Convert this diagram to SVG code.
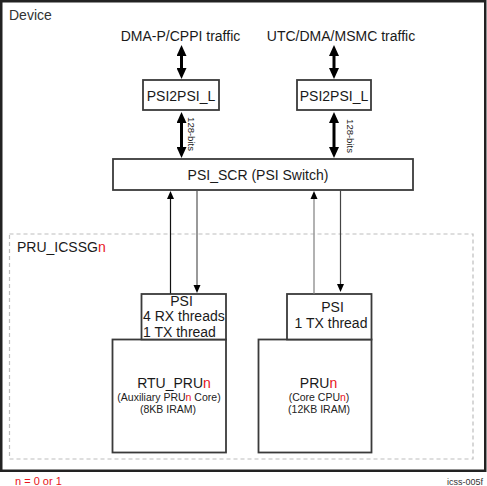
<svg xmlns="http://www.w3.org/2000/svg" width="487" height="486" viewBox="0 0 487 486">
<style>
text{font-family:"Liberation Sans",Arial,sans-serif;fill:#1a1a1a}
.t14{font-size:14px}
.sm{font-size:10.5px;fill:#222}
.c{text-anchor:middle}
.red{fill:#e8141b}
.box{fill:#fff;stroke:#3a3a3a;stroke-width:1.8}
.bold{stroke:#000;stroke-width:3}
</style>
<defs>
<marker id="big" markerUnits="userSpaceOnUse" markerWidth="11" markerHeight="10" refX="3" refY="5" orient="auto-start-reverse">
<path d="M0,0 L11,5 L0,10 z" fill="#000"/>
</marker>
<marker id="small" markerUnits="userSpaceOnUse" markerWidth="8" markerHeight="8" refX="2" refY="4" orient="auto">
<path d="M0,0.5 L8,4 L0,7.5 z" fill="#000"/>
</marker>
</defs>
<rect width="487" height="486" fill="#fff"/>
<g id="device">
<rect x="1.25" y="1.25" width="484" height="469.5" fill="#fff" stroke="#222" stroke-width="2.5"/>
<text x="9" y="20" class="t14" style="fill:#333">Device</text>
</g>
<g id="pru_icssg">
<rect x="9.5" y="234" width="463.5" height="225" fill="none" stroke="#bdbdbd" stroke-width="1.2" stroke-dasharray="4 3"/>
<text x="17" y="252" class="t14">PRU_ICSSG<tspan class="red">n</tspan></text>
</g>
<g id="traffic-left">
<text x="180.5" y="41" class="t14 c">DMA-P/CPPI traffic</text>
</g>
<g id="traffic-right">
<text x="341" y="41" class="t14 c">UTC/DMA/MSMC traffic</text>
</g>
<g id="psi2psi-left">
<rect x="143" y="80" width="76" height="30" class="box"/>
<text x="181" y="101" class="t14 c">PSI2PSI_L</text>
</g>
<g id="psi2psi-right">
<rect x="297" y="80" width="74" height="30" class="box"/>
<text x="334" y="101" class="t14 c">PSI2PSI_L</text>
</g>
<g id="psi-scr">
<rect x="113" y="159" width="300" height="31" class="box"/>
<text x="258" y="180" class="t14 c">PSI_SCR (PSI Switch)</text>
</g>
<g id="rtu-pru">
<rect x="112.5" y="339.5" width="113.5" height="113" class="box"/>
<text x="174" y="388" class="t14 c">RTU_PRU<tspan class="red">n</tspan></text>
<text x="169" y="401" class="sm c">(Auxiliary PRU<tspan class="red">n</tspan> Core)</text>
<text x="168" y="413" class="sm c">(8KB IRAM)</text>
</g>
<g id="psi-left">
<rect x="141.5" y="294" width="84.5" height="45.5" class="box"/>
<text x="181.5" y="306" class="t14 c">PSI</text>
<text x="143" y="321" class="t14">4 RX threads</text>
<text x="143" y="336.5" class="t14">1 TX thread</text>
</g>
<g id="pru">
<rect x="258.5" y="339.5" width="113" height="113" class="box"/>
<text x="318.5" y="388" class="t14 c">PRU<tspan class="red">n</tspan></text>
<text x="319" y="401" class="sm c">(Core CPU<tspan class="red">n</tspan>)</text>
<text x="319" y="413" class="sm c">(12KB IRAM)</text>
</g>
<g id="psi-right">
<rect x="287" y="294" width="84.5" height="45.5" class="box"/>
<text x="332.5" y="311.5" class="t14 c">PSI</text>
<text x="331" y="328" class="t14 c">1 TX thread</text>
</g>
<g id="connectors">
<line x1="181.5" y1="53" x2="181.5" y2="71" class="bold" marker-start="url(#big)" marker-end="url(#big)"/>
<line x1="181.5" y1="120" x2="181.5" y2="150" class="bold" marker-start="url(#big)" marker-end="url(#big)"/>
<line x1="334" y1="53" x2="334" y2="71" class="bold" marker-start="url(#big)" marker-end="url(#big)"/>
<line x1="334" y1="120" x2="334" y2="150" class="bold" marker-start="url(#big)" marker-end="url(#big)"/>
<text x="188" y="134" class="c" style="font-size:9.5px" transform="rotate(90 188 134)">128-bits</text>
<text x="346.5" y="136" class="c" style="font-size:9.5px" transform="rotate(90 346.5 136)">128-bits</text>
<line x1="170.5" y1="293.5" x2="170.5" y2="197" stroke="#111" stroke-width="1.2" marker-end="url(#small)"/>
<line x1="197" y1="190.5" x2="197" y2="287" stroke="#555" stroke-width="1.2" marker-end="url(#small)"/>
<line x1="314" y1="293.5" x2="314" y2="197" stroke="#999" stroke-width="1.5" marker-end="url(#small)"/>
<line x1="340.5" y1="190.5" x2="340.5" y2="286" stroke="#444" stroke-width="1.2" marker-end="url(#small)"/>
</g>
<g id="footer">
<text x="15" y="485" class="red" style="font-size:11px">n = 0 or 1</text>
<text x="483" y="484.5" style="font-size:9px;fill:#333;text-anchor:end">icss-005f</text>
</g>
</svg>
